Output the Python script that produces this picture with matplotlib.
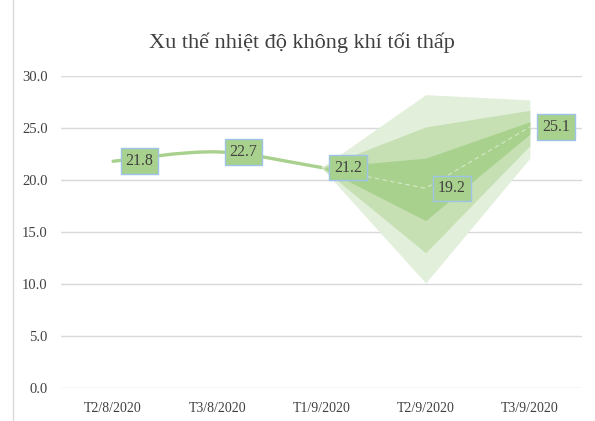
import matplotlib.pyplot as plt
from matplotlib.path import Path
from matplotlib.patches import PathPatch
from matplotlib.lines import Line2D

categories = ['T2/8/2020', 'T3/8/2020', 'T1/9/2020', 'T2/9/2020', 'T3/9/2020']
values = [21.8, 22.7, 21.2, 19.2, 25.1]

# forecast fan (from T1/9 onward)
fan_x = [2, 3, 4]
outer_hi = [21.2, 28.2, 27.7]
outer_lo = [21.2, 10.1, 22.1]
mid_hi = [21.2, 25.1, 26.7]
mid_lo = [21.2, 13.0, 23.3]
inner_hi = [21.2, 22.1, 25.6]
inner_lo = [21.2, 16.1, 24.4]

yticks = [0, 5, 10, 15, 20, 25, 30]

serif = ['Liberation Serif', 'DejaVu Serif']
green = '#a9d18e'
txt = '#404040'

fig = plt.figure(figsize=(5.95, 4.21), dpi=100)
ax = fig.add_axes([0.1025, 0.0784, 0.8755, 0.7411])

# gridlines
for t in yticks:
    ax.axhline(t, color='#d9d9d9', lw=1, zorder=0)

ax.fill_between(fan_x, outer_lo, outer_hi, color='#e2efda', lw=0, zorder=1)
ax.fill_between(fan_x, mid_lo, mid_hi, color='#c6e0b4', lw=0, zorder=2)
ax.fill_between(fan_x, inner_lo, inner_hi, color=green, lw=0, zorder=3)

# smoothed observed line (Excel-style bezier through first three points)
p = [(i, v) for i, v in enumerate(values[:3])]
def ctrl(a, b, c, d):
    c1 = (b[0] + (c[0] - a[0]) / 6, b[1] + (c[1] - a[1]) / 6)
    c2 = (c[0] - (d[0] - b[0]) / 6, c[1] - (d[1] - b[1]) / 6)
    return c1, c2
verts = [p[0]]
codes = [Path.MOVETO]
pts = [p[0]] + p + [p[-1]]
for k in range(len(p) - 1):
    c1, c2 = ctrl(pts[k], pts[k + 1], pts[k + 2], pts[k + 3])
    verts += [c1, c2, pts[k + 2]]
    codes += [Path.CURVE4] * 3
ax.add_patch(PathPatch(Path(verts, codes), fill=False, edgecolor=green,
                       lw=2.4, capstyle='round', zorder=4))

# forecast line
ax.plot([2, 3, 4], values[2:], color='white', lw=0.8, ls=(0, (4, 3)),
        alpha=0.5, zorder=4)

for i, v in enumerate(values):
    ax.annotate(f'{v:.1f}', (i, v), xytext=(19, 0), textcoords='offset points',
                ha='center', va='center', fontsize=11.5, family=serif, color=txt,
                bbox=dict(boxstyle='square,pad=0.3', fc=green, ec='#9dc3e6', lw=1),
                zorder=6)

ax.set_xlim(-0.5, 4.5)
ax.set_ylim(0, 30)
ax.set_xticks(range(len(categories)))
ax.set_xticklabels(categories, family=serif, fontsize=10, color=txt)
ax.set_yticks(yticks)
ax.set_yticklabels([f'{t:.1f}' for t in yticks], family=serif, fontsize=10.5, color=txt)
ax.tick_params(length=0)
ax.tick_params(axis='x', pad=10)
ax.tick_params(axis='y', pad=9.5)
for s in ax.spines.values():
    s.set_visible(False)

fig.text(0.508, 0.898, 'Xu thế nhiệt độ không khí tối thấp', ha='center', va='center',
         fontsize=16, family=serif, color=txt)

fig.add_artist(Line2D([13 / 595, 13 / 595], [0, 1], color='#d9d9d9', lw=1))

fig.savefig('out.png', dpi=100)
